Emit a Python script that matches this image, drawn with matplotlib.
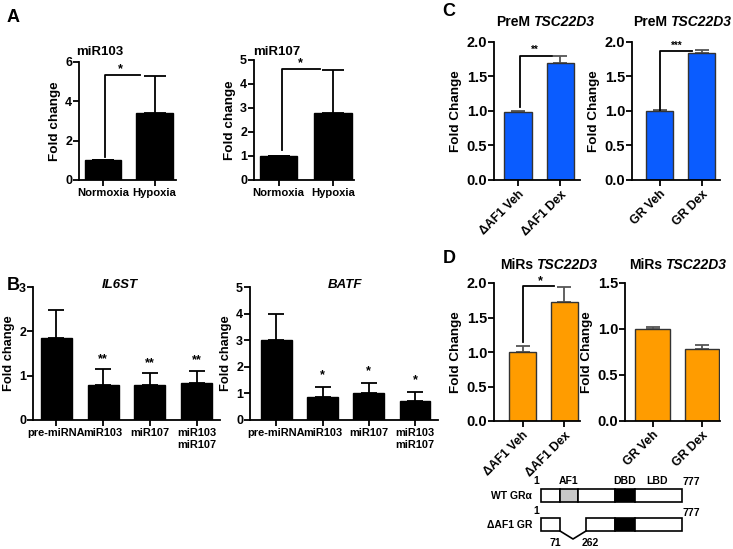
import matplotlib.pyplot as plt
from matplotlib.patches import Rectangle

plt.rcParams['font.family'] = ['Liberation Sans', 'DejaVu Sans']
plt.rcParams['font.weight'] = 'bold'
plt.rcParams['axes.linewidth'] = 1.3
plt.rcParams['xtick.major.width'] = 1.3
plt.rcParams['ytick.major.width'] = 1.3

W, H = 733, 549

# ---- data ----
hyp_labels = ['Normoxia', 'Hypoxia']
mir103_fc = [1.0, 3.4]
mir103_err = [0.0, 1.9]
mir107_fc = [1.0, 2.78]
mir107_err = [0.0, 1.8]

b_labels = ['pre-miRNA', 'miR103', 'miR107', 'miR103\nmiR107']
il6st_fc = [1.86, 0.78, 0.80, 0.83]
il6st_err = [0.62, 0.36, 0.25, 0.28]
il6st_sig = ['', '**', '**', '**']
batf_fc = [3.0, 0.88, 1.03, 0.71]
batf_err = [0.97, 0.37, 0.35, 0.34]
batf_sig = ['', '*', '*', '*']

af1_labels = ['ΔAF1 Veh', 'ΔAF1 Dex']
gr_labels = ['GR Veh', 'GR Dex']
prem_af1_fc = [0.99, 1.70]
prem_af1_err = [0.01, 0.10]
prem_gr_fc = [1.0, 1.84]
prem_gr_err = [0.015, 0.05]
mirs_af1_fc = [1.0, 1.72]
mirs_af1_err = [0.09, 0.22]
mirs_gr_fc = [1.0, 0.78]
mirs_gr_err = [0.025, 0.05]

blue = '#0a5cff'
orange = '#ff9c00'


def px_axes(left, top, right, bottom):
    return fig.add_axes([left / W, 1 - bottom / H, (right - left) / W, (bottom - top) / H])


def ftext(x, y, s, **kw):
    kw.setdefault('ha', 'center')
    kw.setdefault('va', 'center')
    fig.text(x / W, 1 - y / H, s, **kw)


def bar_panel(ax, labels, fc, err, color, edge, ecolor, width, capsize, xlim, ylim, yticks, ylabel,
              tick_fs, ytick_fs, label_fs, rot=0):
    x = list(range(len(fc)))
    ax.bar(x, fc, width=width, color=color, edgecolor=edge, linewidth=1.0, zorder=2)
    ax.errorbar(x, fc, yerr=[[0] * len(err), err], fmt='none', ecolor=ecolor,
                elinewidth=1.3, capsize=capsize, capthick=1.3, zorder=1)
    ax.set_xlim(*xlim)
    ax.set_ylim(*ylim)
    ax.set_yticks(yticks)
    ax.set_xticks(x)
    if rot:
        ax.set_xticklabels(labels, rotation=rot, ha='right', rotation_mode='anchor', fontsize=tick_fs)
    else:
        ax.set_xticklabels(labels, fontsize=tick_fs)
    ax.tick_params(axis='y', labelsize=ytick_fs, length=4, pad=1)
    ax.tick_params(axis='x', length=4, pad=2)
    ax.set_ylabel(ylabel, fontsize=label_fs, fontweight='bold', labelpad=3)
    ax.spines['top'].set_visible(False)
    ax.spines['right'].set_visible(False)
    for s in ax.spines.values():
        s.set_clip_on(False)
    return x


def bracket(ax, x0, x1, y0, y1, star, sx, sy, fs=9):
    ax.plot([x0, x0, x1], [y0, y1, y1], color='black', lw=1.3, zorder=3, clip_on=False)
    ax.text(sx, sy, star, ha='center', va='center', fontsize=fs, zorder=3)


fig = plt.figure(figsize=(W / 100, H / 100), dpi=100)

# ---- A ----
ax = px_axes(79, 62, 176, 180)
bar_panel(ax, hyp_labels, mir103_fc, mir103_err, 'black', 'black', 'black', 0.7, 8,
          (-0.466, 1.417), (0, 6), [0, 2, 4, 6], 'Fold change', 8.1, 9, 9.7)
bracket(ax, 0.04, 0.72, 1.18, 5.34, '*', 0.33, 5.65)

ax = px_axes(254, 60, 354, 180)
bar_panel(ax, hyp_labels, mir107_fc, mir107_err, 'black', 'black', 'black', 0.68, 8,
          (-0.45, 1.385), (0, 5), [0, 1, 2, 3, 4, 5], 'Fold change', 8.1, 9, 9.7)
bracket(ax, 0.06, 0.76, 1.25, 4.61, '*', 0.4, 4.85)

ftext(100, 52, 'miR103', fontsize=9.5)
ftext(277, 52, 'miR107', fontsize=9.5)

# ---- B ----
ax = px_axes(33, 287, 220, 420)
x = bar_panel(ax, b_labels, il6st_fc, il6st_err, 'black', 'black', 'black', 0.66, 6,
              (-0.5, 3.5), (0, 3), [0, 1, 2, 3], 'Fold change', 7.9, 9, 9.3)
for xi, f, e, s in zip(x, il6st_fc, il6st_err, il6st_sig):
    ax.text(xi, f + e + 0.24, s, ha='center', va='center', fontsize=9)

ax = px_axes(250, 287, 438, 420)
x = bar_panel(ax, b_labels, batf_fc, batf_err, 'black', 'black', 'black', 0.66, 6,
              (-0.57, 3.5), (0, 5), [0, 1, 2, 3, 4, 5], 'Fold change', 7.9, 9, 9.3)
for xi, f, e, s in zip(x, batf_fc, batf_err, batf_sig):
    ax.text(xi, f + e + 0.45, s, ha='center', va='center', fontsize=9)

ftext(120, 285, 'IL6ST', fontsize=9.5, style='italic')
ftext(345, 285, 'BATF', fontsize=9.5, style='italic')

# ---- C ----
cticks = [0, 0.5, 1, 1.5, 2]
ax = px_axes(494, 42, 580, 180)
bar_panel(ax, af1_labels, prem_af1_fc, prem_af1_err, blue, '#333333', '#555555', 0.65, 4.7,
          (-0.565, 1.46), (0, 2), cticks, 'Fold Change', 8.8, 10.5, 9.7, rot=45)
ax.set_yticklabels(['0.0', '0.5', '1.0', '1.5', '2.0'])
bracket(ax, 0.05, 0.8, 1.06, 1.80, '**', 0.4, 1.89, fs=7)

ax = px_axes(632, 42, 720, 180)
bar_panel(ax, gr_labels, prem_gr_fc, prem_gr_err, blue, '#333333', '#555555', 0.65, 4.7,
          (-0.655, 1.44), (0, 2), cticks, 'Fold Change', 8.8, 10.5, 9.7, rot=45)
ax.set_yticklabels(['0.0', '0.5', '1.0', '1.5', '2.0'])
bracket(ax, 0.01, 0.77, 1.01, 1.87, '***', 0.4, 1.95, fs=7)

# ---- D ----
ax = px_axes(494, 283, 580, 421)
bar_panel(ax, af1_labels, mirs_af1_fc, mirs_af1_err, orange, '#333333', '#555555', 0.64, 4.7,
          (-0.68, 1.37), (0, 2), cticks, 'Fold Change', 8.8, 10.5, 9.7, rot=45)
ax.set_yticklabels(['0.0', '0.5', '1.0', '1.5', '2.0'])
bracket(ax, 0.0, 0.75, 1.15, 1.95, '*', 0.42, 2.03, fs=9)

ax = px_axes(625, 283, 720, 421)
bar_panel(ax, gr_labels, mirs_gr_fc, mirs_gr_err, orange, '#333333', '#555555', 0.7, 4.7,
          (-0.56, 1.37), (0, 1.5), [0, 0.5, 1, 1.5], 'Fold Change', 8.8, 10.5, 9.7, rot=45)
ax.set_yticklabels(['0.0', '0.5', '1.0', '1.5'])

# titles with italic gene name
for xs, y, pre in [(532, 22, 'PreM'), (669, 22, 'PreM'), (535, 265, 'MiRs'), (664, 265, 'MiRs')]:
    ftext(xs - 2, y, pre, ha='right', fontsize=10)
    ftext(xs + 1.5, y, 'TSC22D3', ha='left', fontsize=10, style='italic')

# panel letters
ftext(13, 18, 'A', fontsize=13)
ftext(13, 285, 'B', fontsize=13)
ftext(449, 12, 'C', fontsize=13)
ftext(449, 258, 'D', fontsize=13)

# ---- GR domain schematic ----
dg = fig.add_axes([0, 0, 1, 1])
dg.set_xlim(0, W)
dg.set_ylim(H, 0)
dg.axis('off')

wt_segments = [(541, 560, 'white'), (560, 578, '#c8c8c8'), (578, 615, 'white'),
               (615, 635, 'black'), (635, 682, 'white')]
for x0, x1, c in wt_segments:
    dg.add_patch(Rectangle((x0, 489), x1 - x0, 13, facecolor=c, edgecolor='black', lw=1.2))
d_segments = [(541, 560, 'white'), (586, 615, 'white'), (615, 635, 'black'), (635, 682, 'white')]
for x0, x1, c in d_segments:
    dg.add_patch(Rectangle((x0, 518), x1 - x0, 13, facecolor=c, edgecolor='black', lw=1.2))
dg.plot([560, 573, 586], [531, 539, 531], color='black', lw=1.2)

ftext(536, 481, '1', fontsize=7.5)
ftext(569, 481, 'AF1', fontsize=7.5)
ftext(625, 481, 'DBD', fontsize=7.5)
ftext(657, 481, 'LBD', fontsize=7.5)
ftext(691, 482, '777', fontsize=7.5)
ftext(532, 496, 'WT GRα', ha='right', fontsize=7.5)
ftext(536, 511, '1', fontsize=7.5)
ftext(691, 513, '777', fontsize=7.5)
ftext(532, 525, 'ΔAF1 GR', ha='right', fontsize=7.5)
ftext(555, 543, '71', fontsize=7.5)
ftext(590, 543, '262', fontsize=7.5)

fig.savefig('out.png', dpi=100)
